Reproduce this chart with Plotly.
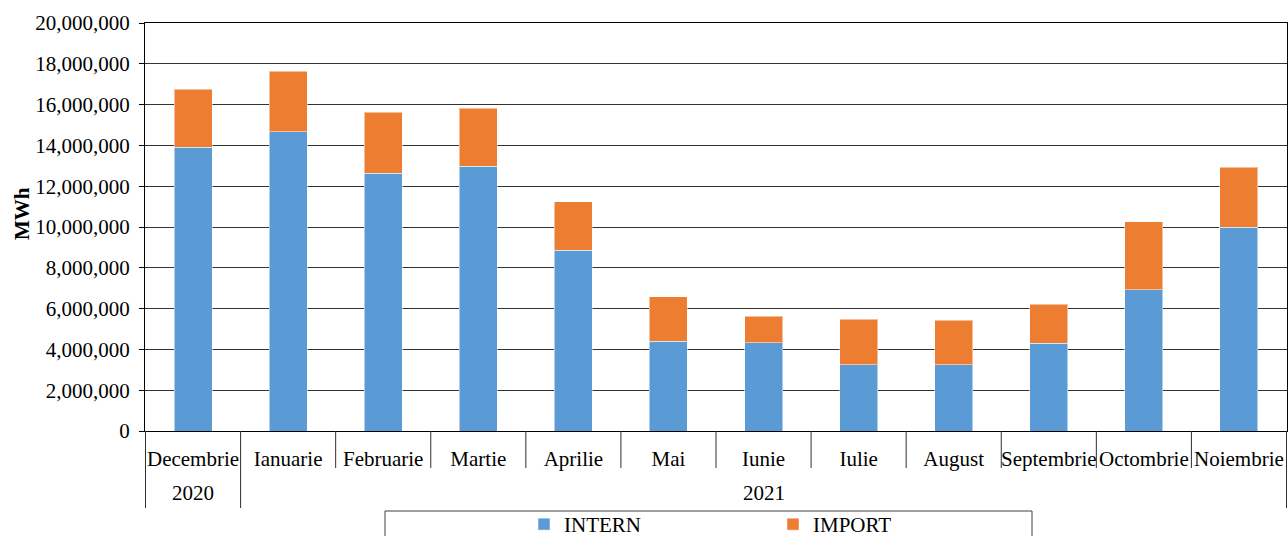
import plotly.graph_objects as go

# luni si ani (axa x pe doua nivele)
months = ["Decembrie", "Ianuarie", "Februarie", "Martie", "Aprilie", "Mai",
          "Iunie", "Iulie", "August", "Septembrie", "Octombrie", "Noiembrie"]
years = ["2020", "2021", "2021", "2021", "2021", "2021",
         "2021", "2021", "2021", "2021", "2021", "2021"]

# valori (MWh)
intern = [13920000, 14670000, 12630000, 12990000, 8860000, 4410000,
          4330000, 3240000, 3240000, 4300000, 6930000, 9990000]
total = [16750000, 17630000, 15620000, 15830000, 11240000, 6580000,
         5620000, 5490000, 5440000, 6210000, 10250000, 12930000]
import_ = [t - i for t, i in zip(total, intern)]

BLUE = "#5B9BD5"
ORANGE = "#ED7D31"
FONT = "Liberation Serif, Times New Roman, serif"
FS = 21

W, H = 1288, 536
L, R, T, B = 145, 1, 23, 105
plot_w = W - L - R
plot_h = H - T - B


def py(px):
    # pixel (de sus) -> coordonata paper pe verticala
    return (H - B - px) / plot_h


def px_x(px):
    return (px - L) / plot_w


fig = go.Figure()
fig.add_trace(go.Bar(x=months, y=intern, name="INTERN", marker_color=BLUE,
                     marker_line=dict(width=1, color="rgba(255,255,255,0.5)"),
                     width=0.4))
fig.add_trace(go.Bar(x=months, y=import_, name="IMPORT", marker_color=ORANGE,
                     marker_line=dict(width=1, color="rgba(255,255,255,0.5)"),
                     width=0.4))

shapes = []
# liniile dintre categorii sub axa
for k in range(len(months) + 1):
    is_year_edge = k == 0 or k == len(months) or years[k] != years[k - 1]
    y_end = py(508) if is_year_edge else py(468)
    shapes.append(dict(type="line", xref="x", yref="paper", x0=k - 0.5, x1=k - 0.5,
                       y0=0, y1=y_end, line=dict(color="#303030", width=1)))

# chenarul legendei
shapes.append(dict(type="rect", xref="paper", yref="paper",
                   x0=px_x(385), x1=px_x(1032),
                   y0=py(511), y1=py(560), line=dict(color="#404040", width=1),
                   fillcolor="rgba(0,0,0,0)"))

annotations = []
# etichetele anilor
groups = {}
for idx, yr in enumerate(years):
    groups.setdefault(yr, []).append(idx)
for yr, idxs in groups.items():
    annotations.append(dict(x=(idxs[0] + idxs[-1]) / 2, y=py(493), xref="x", yref="paper",
                            text=yr, showarrow=False, yanchor="middle",
                            font=dict(family=FONT, size=FS, color="black")))

annotations.append(dict(x=px_x(22), y=py(214), xref="paper", yref="paper",
                        text="<b>MWh</b>", textangle=-90, showarrow=False,
                        xanchor="center", yanchor="middle",
                        font=dict(family=FONT, size=FS, color="black")))

fig.update_layout(
    width=W, height=H,
    margin=dict(l=L, r=R, t=T, b=B, autoexpand=False),
    barmode="stack",
    paper_bgcolor="white", plot_bgcolor="white",
    font=dict(family=FONT, size=FS, color="black"),
    shapes=shapes,
    annotations=annotations,
    showlegend=True,
    legend=dict(orientation="h", x=px_x(524), xanchor="left",
                y=py(504), yanchor="top", entrywidth=204, entrywidthmode="pixels",
                bgcolor="rgba(0,0,0,0)", font=dict(family=FONT, size=FS),
                traceorder="normal"),
)

fig.update_xaxes(
    type="category", automargin=False,
    showline=True, linecolor="black", linewidth=1, mirror=True,
    ticks="", ticklabelstandoff=9,
    tickfont=dict(family=FONT, size=FS, color="black"),
    showgrid=False,
)
fig.update_yaxes(
    range=[0, 20000000], dtick=2000000, tickformat=",d", automargin=False,
    showline=True, linecolor="black", linewidth=1, mirror=True,
    ticks="outside", ticklen=5, tickcolor="black", ticklabelstandoff=5,
    showgrid=True, gridcolor="#333333", gridwidth=1,
    tickfont=dict(family=FONT, size=FS, color="black"),
    zeroline=False,
)

fig.write_html("out.html", config={"displayModeBar": False},
               post_script="document.body.style.margin='0';document.body.style.overflow='hidden';")
